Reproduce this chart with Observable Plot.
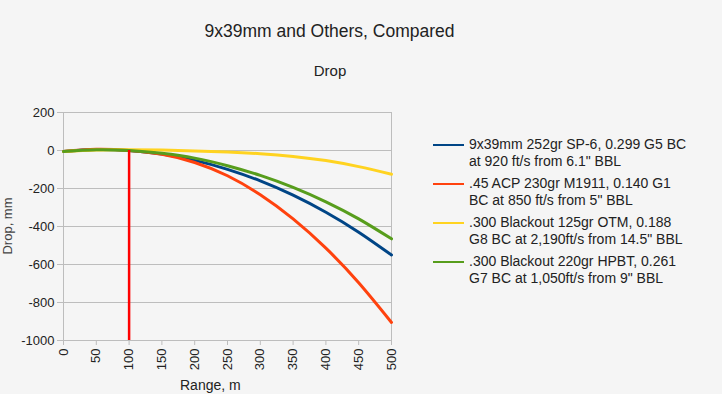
<!DOCTYPE html>
<html><head><meta charset="utf-8">
<script src="https://cdn.jsdelivr.net/npm/d3@7"></script>
<script src="https://cdn.jsdelivr.net/npm/@observablehq/plot@0.6"></script>
<style>
body{margin:0;background:#f5f5f5;font-family:"Liberation Sans",Arial,sans-serif;color:#222;}
#wrap{position:relative;width:722px;height:394px;overflow:hidden;background:#f5f5f5;}
#wrap svg{position:absolute;left:0;top:0;}
.t{position:absolute;white-space:nowrap;}
#title{left:0;width:659px;text-align:center;top:21px;font-size:17.5px;}
#sub{left:0;width:660px;text-align:center;top:62px;font-size:15px;}
#xlab{left:180px;top:377px;font-size:14px;}
#ylab{left:-22px;top:218px;width:60px;text-align:center;font-size:13px;line-height:16px;transform:rotate(-90deg);color:#444;}
.leg{position:absolute;left:433px;font-size:14px;line-height:17px;}
.leg .sw{position:absolute;left:0;top:8px;width:31px;height:2px;}
.leg .tx{position:absolute;left:36px;top:0;white-space:nowrap;}
</style></head><body>
<div id="wrap">
  <div class="t" id="title">9x39mm and Others, Compared</div>
  <div class="t" id="sub">Drop</div>
  <div class="t" id="xlab">Range, m</div>
  <div class="t" id="ylab">Drop, mm</div>
</div>
<script>
const ranges = [0, 50, 100, 150, 200, 250, 300, 350, 400, 450, 500];
const seriesNames = [
  "9x39mm 252gr SP-6, 0.299 G5 BC|at 920 ft/s from 6.1\" BBL",
  ".45 ACP 230gr M1911, 0.140 G1|BC at 850 ft/s from 5\" BBL",
  ".300 Blackout 125gr OTM, 0.188|G8 BC at 2,190ft/s from 14.5\" BBL",
  ".300 Blackout 220gr HPBT, 0.261|G7 BC at 1,050ft/s from 9\" BBL"
];
const seriesColors = ["#004586", "#ff420e", "#ffd320", "#579d1c"];
const drop9x39   = [-5, 5, 0, -19, -52, -99, -160, -235, -325, -430, -550];
const drop45acp  = [-5, 6, 0, -20, -63, -133, -233, -360, -514, -696, -905];
const drop300otm = [-5, 3, 4, 2, -2, -8, -17, -31, -53, -85, -125];
const drop300hp  = [-5, 4, 0, -15, -40, -80, -131, -194, -270, -360, -465];
const seriesValues = [drop9x39, drop45acp, drop300otm, drop300hp];
const xTicks = [0, 50, 100, 150, 200, 250, 300, 350, 400, 450, 500];
const yTicks = [200, 0, -200, -400, -600, -800, -1000];
const markerRange = [100];
const markerTop = 0, markerBottom = -1000;

const rows = [];
seriesValues.forEach((vals, i) => vals.forEach((v, j) => rows.push({range: ranges[j], drop: v, s: i})));

const grid = "#bdbdbd";
const plot = Plot.plot({
  width: 722, height: 394,
  marginLeft: 63, marginRight: 331, marginTop: 112, marginBottom: 54,
  style: {background: "transparent", fontFamily: "Liberation Sans, Arial, sans-serif", fontSize: "13px", color: "#222"},
  x: {domain: [0, 500], label: null},
  y: {domain: [-1000, 200], label: null},
  marks: [
    Plot.gridY(yTicks, {stroke: grid, strokeOpacity: 1}),
    Plot.ruleX([0, 500], {stroke: grid}),
    Plot.axisY(yTicks, {tickSize: 6, tickPadding: 3, stroke: grid, fill: "#222", fontSize: 13, tickFormat: d => String(d)}),
    Plot.axisX(xTicks, {tickSize: 5, tickPadding: 3, tickRotate: -90, stroke: grid, fill: "#222", fontSize: 13, tickFormat: d => String(d)}),
    Plot.line(rows, {x: "range", y: "drop", z: "s", stroke: d => seriesColors[d.s], curve: "natural", strokeWidth: 3}),
    Plot.ruleX(markerRange, {y1: markerTop, y2: markerBottom, stroke: "#ff0000", strokeWidth: 2.5})
  ]
});
const wrap = document.getElementById("wrap");
wrap.insertBefore(plot, wrap.firstChild);

const legTops = [136, 175, 214, 253];
seriesNames.forEach((n, i) => {
  const d = document.createElement("div");
  d.className = "leg";
  d.style.top = legTops[i] + "px";
  const sw = document.createElement("div");
  sw.className = "sw"; sw.style.background = seriesColors[i];
  const tx = document.createElement("div");
  tx.className = "tx";
  n.split("|").forEach(line => {
    const l = document.createElement("div");
    l.textContent = line;
    tx.appendChild(l);
  });
  d.appendChild(sw); d.appendChild(tx);
  wrap.appendChild(d);
});
</script>
</body></html>
